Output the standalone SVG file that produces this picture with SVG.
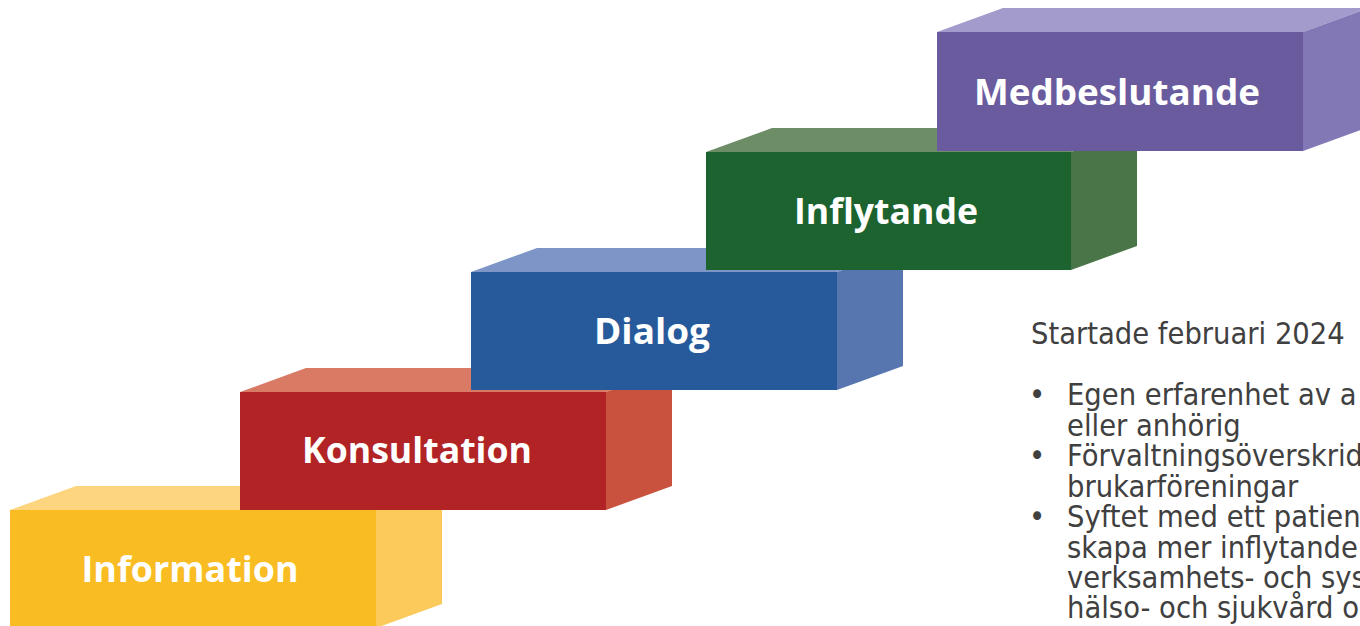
<svg xmlns="http://www.w3.org/2000/svg" width="1360" height="626" viewBox="0 0 1360 626">
<style>
.lbl{font-family:"Open Sans","Noto Sans","DejaVu Sans",sans-serif;font-weight:700;font-size:35px;fill:#ffffff;text-anchor:middle}
.txt{font-family:"DejaVu Sans Condensed","DejaVu Sans",sans-serif;font-stretch:condensed;font-size:30.5px;fill:#404040}
</style>
<rect x="0" y="0" width="1360" height="626" fill="#ffffff"/>
<g id="connectors"/>
<g id="step-information">
<polygon points="10,510 76,486 442,486 376,510" fill="#FDD57E"/>
<polygon points="376,510 442,486 442,604 376,628" fill="#FCCA5A"/>
<rect x="10" y="510" width="366" height="118" fill="#F9BD23"/>
<text class="lbl" x="190" y="582" textLength="217" lengthAdjust="spacingAndGlyphs">Information</text>
</g>
<g id="step-konsultation">
<polygon points="240,392 306,368 672,368 606,392" fill="#D97A65"/>
<polygon points="606,392 672,368 672,486 606,510" fill="#C9523F"/>
<rect x="240" y="392" width="366" height="118" fill="#B22325"/>
<text class="lbl" x="417" y="463" textLength="230" lengthAdjust="spacingAndGlyphs">Konsultation</text>
</g>
<g id="step-dialog">
<polygon points="471,272 537,248 903,248 837,272" fill="#7D96C7"/>
<polygon points="837,272 903,248 903,366 837,390" fill="#5775AF"/>
<rect x="471" y="272" width="366" height="118" fill="#265A9B"/>
<text class="lbl" x="652" y="344" textLength="116" lengthAdjust="spacingAndGlyphs">Dialog</text>
</g>
<g id="step-inflytande">
<polygon points="706,152 772,128 1137,128 1071,152" fill="#6C8D66"/>
<polygon points="1071,152 1137,128 1137,246 1071,270" fill="#4A7548"/>
<rect x="706" y="152" width="365" height="118" fill="#1C632F"/>
<text class="lbl" x="886" y="224" textLength="184" lengthAdjust="spacingAndGlyphs">Inflytande</text>
</g>
<g id="step-medbeslutande">
<polygon points="937,32 1003,8 1369,8 1303,32" fill="#A39BCB"/>
<polygon points="1303,32 1369,8 1369,127 1303,151" fill="#8378B6"/>
<rect x="937" y="32" width="366" height="119" fill="#695B9E"/>
<text class="lbl" x="1117" y="105" textLength="286" lengthAdjust="spacingAndGlyphs">Medbeslutande</text>
</g>
<g id="info-text">
<text class="txt" x="1031" y="344">Startade februari 2024</text>
<text class="txt" x="1029" y="405">•</text>
<text class="txt" x="1067" y="405">Egen erfarenhet av a</text>
<text class="txt" x="1067" y="435.5">eller anhörig</text>
<text class="txt" x="1029" y="466">•</text>
<text class="txt" x="1067" y="466">Förvaltningsöverskrid</text>
<text class="txt" x="1067" y="496.5">brukarföreningar</text>
<text class="txt" x="1029" y="527">•</text>
<text class="txt" x="1067" y="527">Syftet med ett patien</text>
<text class="txt" x="1067" y="557.5">skapa mer inflytande</text>
<text class="txt" x="1067" y="588">verksamhets- och sys</text>
<text class="txt" x="1067" y="618">hälso- och sjukvård o</text>
</g>
</svg>
